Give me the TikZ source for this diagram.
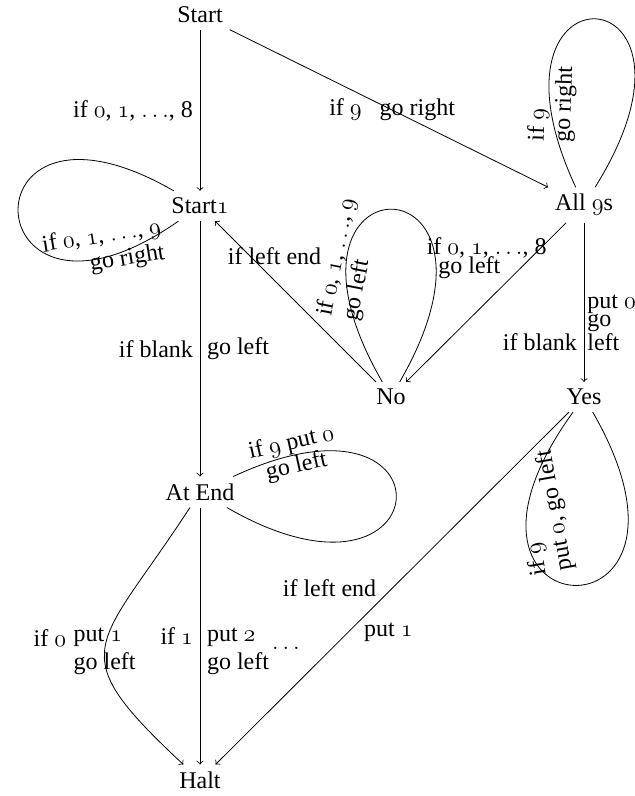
\documentclass[tikz,border=0pt]{standalone}
\usepackage{fontspec}
\setmainfont{Liberation Serif}
\newcommand\osn[1]{{\usefont{OML}{cmm}{m}{it}#1}}

\begin{document}
\begin{tikzpicture}[x=0.5pt, y=-0.5pt, font=\fontsize{12}{14}\selectfont,
    lbl/.style={font=\fontsize{12}{13}\selectfont},
    tight/.style={font=\fontsize{12}{9}\selectfont, align=left}]
    \useasboundingbox (0,0) rectangle (634,796);

    % States
    \node (start)  at (200,15)  {Start};
    \node (start1) at (200,206) {Start\osn{1}};
    \node (all9s)  at (584,205) {All \osn{9}s};
    \node (no)     at (391,397) {No};
    \node (yes)    at (584,397) {Yes};
    \node (atend)  at (200,492) {At End};
    \node (halt)   at (200,780) {Halt};
    \node (dots)   at (286,648) {$\ldots$};

    % Transitions
    \draw[->] (start) -- node[left] {if \osn{0}, \osn{1}, $\ldots$, 8} (start1);
    \draw[->] (start) -- node[pos=0.51] {if \osn{9}\hspace{9pt}go right} (all9s);
    \draw[->] (start1) -- node[left] {if blank} node[right] {go left} (atend);
    \draw[->] (no) -- node[pos=0.78, xshift=12pt] {if left end} (start1);
    \draw[->] (all9s) -- node[pos=0.16, anchor=east, xshift=6.5pt] {if \osn{0}, \osn{1}, $\ldots$, 8}
        node[pos=0.28, anchor=east, xshift=-7pt] {go left} (no);
    \draw[->] (all9s) -- node[pos=0.75, left] {if blank}
        node[pos=0.63, right, inner xsep=1.5pt, tight] {put \osn{0}\\go\\left} (yes);
    \draw[->] (yes) -- node[pos=0.5, left, xshift=-4.5pt] {if left end}
        node[pos=0.625, right, xshift=4.5pt] {put \osn{1}} (halt);
    \draw[->] (atend) -- node[left] {if \osn{1}}
        node[pos=0.56, right, align=left] {put \osn{2}\\go left} (halt);
    \draw[->] (atend) to[out=237, in=137, distance=85pt]
        node[pos=0.46, left, xshift=-17pt] {if \osn{0}}
        node[pos=0.53, right, align=left, xshift=-19pt] {put \osn{1}\\go left} (halt);

    % Loops
    \draw (all9s) to[out=115, in=58, distance=128pt]
        node[lbl, pos=0.14, xshift=1pt, rotate=88, align=left] {if \osn{9}\\go right} (all9s);
    \draw (start1) to[out=150, in=215, distance=125pt]
        node[lbl, pos=0.86, yshift=4pt, rotate=9, align=right] {if \osn{0}, \osn{1}, $\ldots$, \osn{9}\\go right} (start1);
    \draw (no) to[out=120, in=60, distance=133pt]
        node[lbl, pos=0.19, xshift=2pt, yshift=8pt, rotate=79, align=left] {if \osn{0}, \osn{1}, $\ldots$, \osn{9}\\go left} (no);
    \draw (yes) to[out=234, in=300, distance=138pt]
        node[lbl, pos=0.19, xshift=8pt, yshift=2pt, rotate=100, align=left] {if \osn{9}\\put \osn{0}, go left} (yes);
    \draw (atend) to[out=25, in=330, distance=125pt]
        node[lbl, pos=0.1, sloped, align=center, font=\fontsize{12}{11}\selectfont] {if \osn{9} put \osn{0}\\go left} (atend);
\end{tikzpicture}
\end{document}
